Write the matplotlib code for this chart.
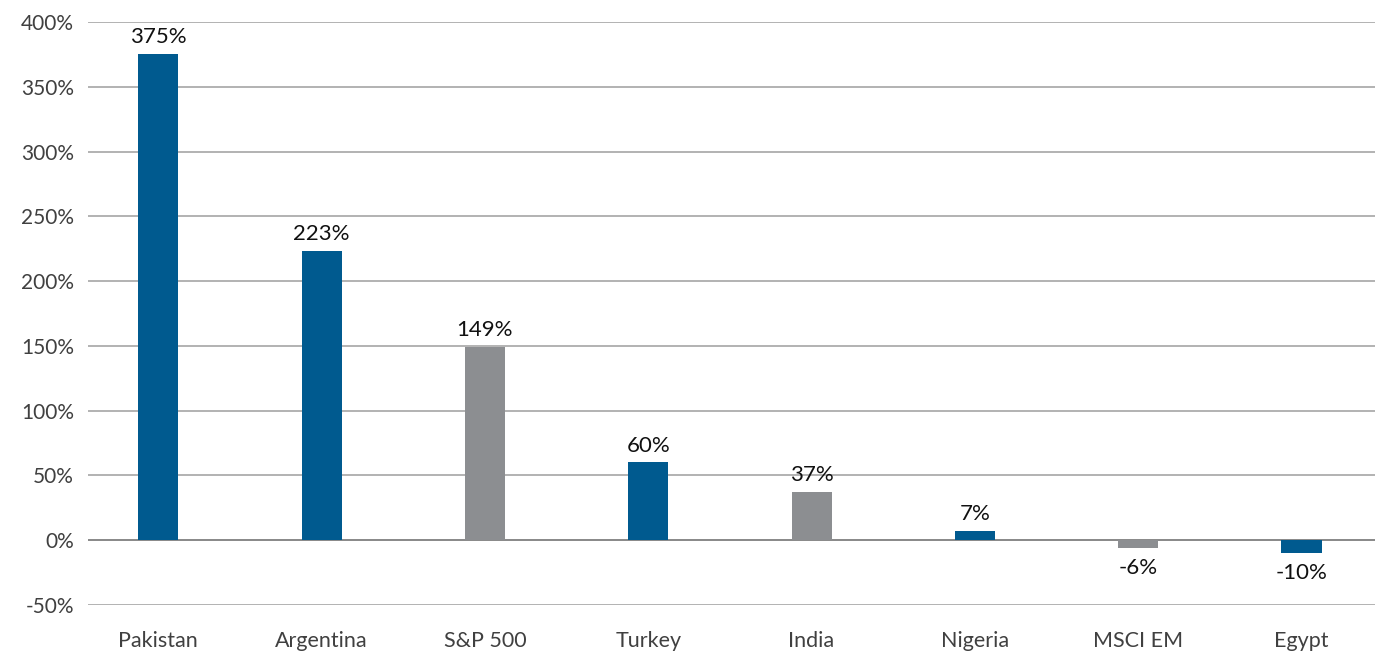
import matplotlib.pyplot as plt
import matplotlib.ticker as mticker

categories = ["Pakistan", "Argentina", "S&P 500", "Turkey", "India", "Nigeria", "MSCI EM", "Egypt"]
returns = [375, 223, 149, 60, 37, 7, -6, -10]
is_benchmark = [False, False, True, False, True, False, True, False]

blue = "#005A8F"
grey = "#8C8E91"
colors = [grey if b else blue for b in is_benchmark]

plt.rcParams["font.family"] = ["Lato", "DejaVu Sans"]

fig = plt.figure(figsize=(13.78, 6.52), dpi=100)
ax = fig.add_axes([88 / 1378, 47 / 652, 1287 / 1378, 583 / 652])

x = range(len(categories))
bars = ax.bar(x, returns, width=0.245, color=colors, zorder=3)

# value labels above / below the bars
for xi, v in zip(x, returns):
    if v >= 0:
        ax.annotate(f"{v}%", (xi, v), xytext=(0, 5), textcoords="offset points",
                    ha="center", va="bottom", fontsize=16, color="#111111")
    else:
        ax.annotate(f"{v}%", (xi, v), xytext=(0, -7), textcoords="offset points",
                    ha="center", va="top", fontsize=16, color="#111111")

ax.set_ylim(-50, 400)
ax.set_xlim(-0.43, 7.45)
ax.yaxis.set_major_locator(mticker.MultipleLocator(50))
ax.yaxis.set_major_formatter(mticker.FuncFormatter(lambda v, p: f"{v:.0f}%"))
ax.grid(axis="y", color="#A6A6A6", linewidth=1.2, zorder=0)
ax.axhline(0, color="#8A8A8A", linewidth=1.4, zorder=2)

ax.set_xticks(list(x))
ax.set_xticklabels(categories)
ax.tick_params(axis="both", length=0, labelcolor="#404040")
ax.tick_params(axis="x", pad=19, labelsize=15.5)
ax.tick_params(axis="y", pad=10, labelsize=15)
for s in ax.spines.values():
    s.set_visible(False)

fig.savefig("out.png", dpi=100)
